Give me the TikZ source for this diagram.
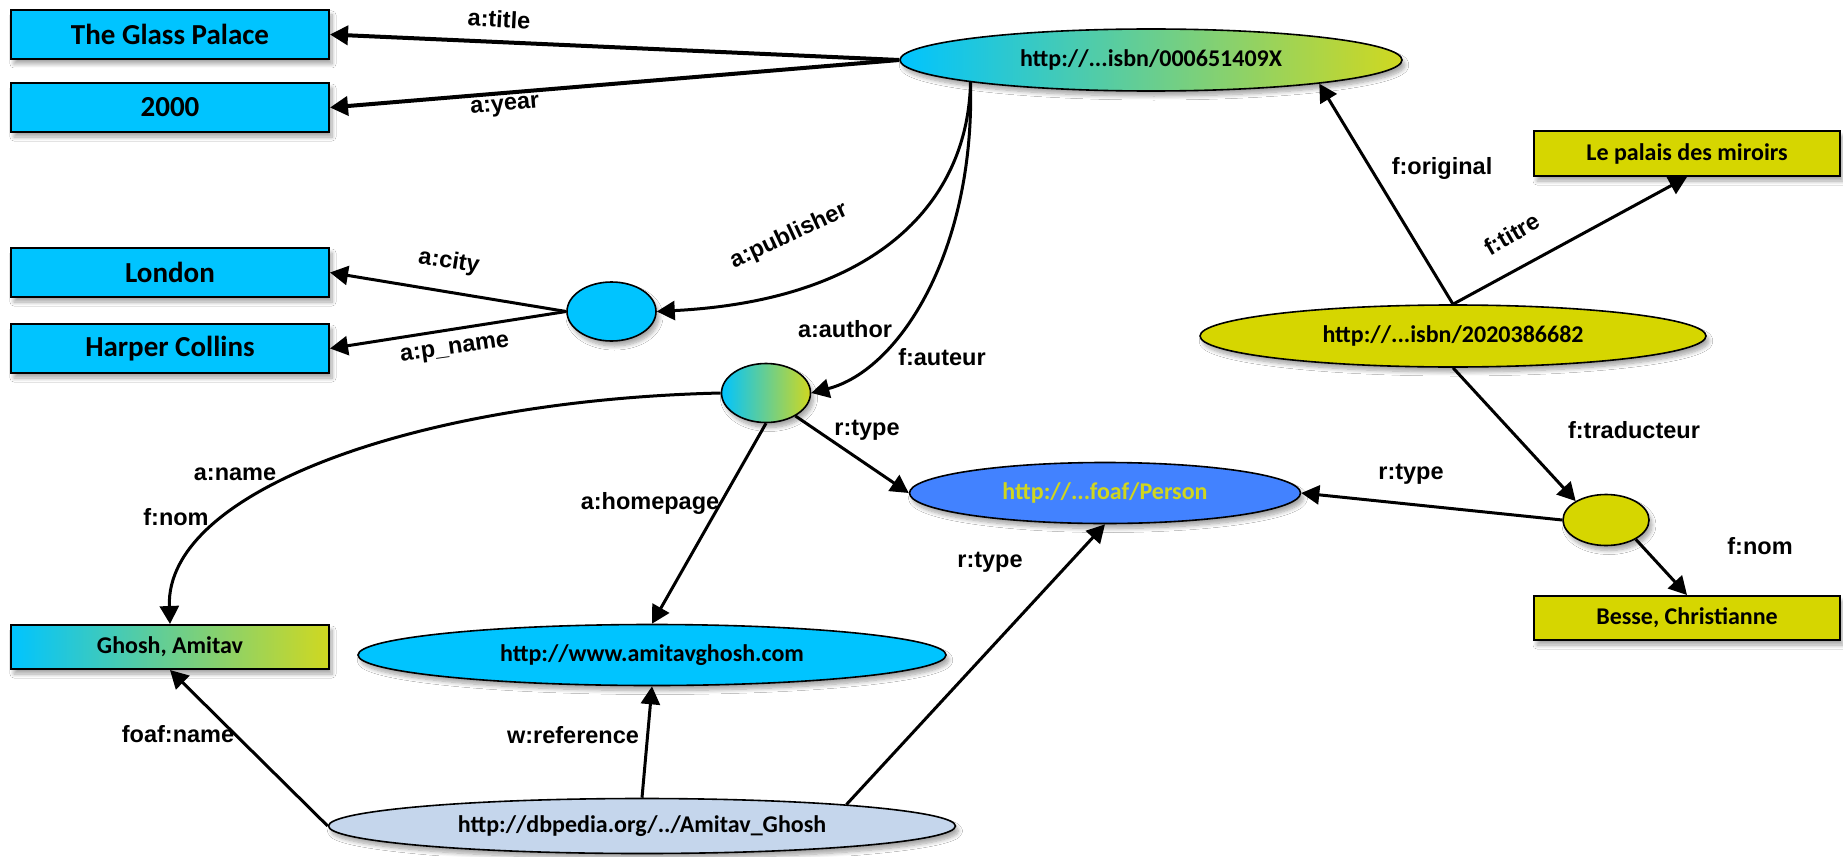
\documentclass[tikz,border=0pt]{standalone}
\usepackage{fontspec}
\setmainfont{Carlito}
\newfontfamily\lblfont{Liberation Sans}
\usetikzlibrary{arrows.meta,shapes.geometric,shadows.blur}
\definecolor{cyanb}{RGB}{0,196,255}
\definecolor{ylw}{RGB}{214,214,0}
\definecolor{gradR}{RGB}{208,216,32}
\definecolor{persB}{RGB}{66,130,255}
\definecolor{persT}{RGB}{208,214,30}
\definecolor{dbpB}{RGB}{197,214,236}
\begin{document}
\begin{tikzpicture}[x=1pt,y=-1pt,
  shd/.style={blur shadow={shadow xshift=3pt,shadow yshift=-5pt,shadow opacity=35,shadow blur steps=8,shadow blur radius=4pt}},
  box/.style={draw,line width=2pt,rectangle,inner sep=0pt,shd},
  ell/.style={draw,line width=1.6pt,ellipse,inner sep=0pt,shd},
  bigt/.style={font=\bfseries\fontsize{29}{33}\selectfont},
  smt/.style={font=\bfseries\fontsize{24}{28}\selectfont},
  lbl/.style={font=\lblfont\bfseries\fontsize{23.5}{27}\selectfont,inner sep=0pt},
  con/.style={line width=3pt,-{Triangle[length=18pt,width=19pt]}},
  grad/.style={left color=cyanb,right color=gradR},
]
\path[use as bounding box,fill=white] (0,0) rectangle (1843,856);

% boxes
\node[box,bigt,fill=cyanb,minimum width=318pt,minimum height=49pt] (glass) at (170,34.5) {The Glass Palace};
\node[box,bigt,fill=cyanb,minimum width=318pt,minimum height=49pt] (year) at (170,107.5) {2000};
\node[box,bigt,fill=cyanb,minimum width=318pt,minimum height=49pt] (london) at (170,272.5) {London};
\node[box,bigt,fill=cyanb,minimum width=318pt,minimum height=49pt] (harper) at (170,348.5) {Harper Collins};
\node[box,smt,grad,minimum width=318pt,minimum height=44pt] (ghosh) at (170,647) {Ghosh, Amitav};
\node[box,smt,fill=ylw,minimum width=306pt,minimum height=45pt] (palais) at (1687,153.5) {Le palais des miroirs};
\node[box,smt,fill=ylw,minimum width=306pt,minimum height=44pt] (besse) at (1687,618) {Besse, Christianne};

% ellipses
\node[ell,smt,grad,minimum width=502pt,minimum height=62pt] (iso1) at (1151,60) {http://...isbn/000651409X};
\node[ell,fill=cyanb,minimum width=89pt,minimum height=59pt] (pub) at (611.5,311.5) {};
\node[ell,grad,minimum width=89pt,minimum height=59pt] (auth) at (766,393) {};
\node[ell,smt,fill=ylw,minimum width=506pt,minimum height=62pt] (iso2) at (1453,336) {http://...isbn/2020386682};
\node[ell,smt,fill=persB,text=persT,minimum width=391pt,minimum height=61pt] (pers) at (1105,493) {http://...foaf/Person};
\node[ell,fill=ylw,minimum width=86pt,minimum height=51pt] (ycirc) at (1606,520) {};
\node[ell,smt,fill=cyanb,minimum width=588pt,minimum height=61pt] (amitav) at (652,655) {http://www.amitavghosh.com};
\node[ell,smt,fill=dbpB,minimum width=627pt,minimum height=55pt] (dbp) at (642,826) {http://dbpedia.org/../Amitav\_Ghosh};

% connectors
\draw[con,line width=4pt] (iso1.west) -- (glass.east);
\draw[con,line width=4pt] (iso1.west) -- (year.east);
\draw[con] (pub.west) -- (london.east);
\draw[con] (pub.west) -- (harper.east);
\draw[con] (iso1.-173) .. controls (968,200) and (880,300) .. (pub.east);
\draw[con] (iso1.-173) .. controls (975,250) and (900,370) .. (auth.east);
\draw[con] (auth.west) .. controls (420,400) and (165,490) .. (ghosh.north);
\draw[con] (auth.south) -- (amitav.north);
\draw[con] (auth.-38) -- (pers.west);
\draw[con] (dbp.west) -- (ghosh.south);
\draw[con] (dbp.north) -- (amitav.south);
\draw[con] (dbp.6) -- (pers.south);
\draw[con] (ycirc.west) -- (pers.east);
\draw[con] (iso2.north) -- (iso1.-8);
\draw[con] (iso2.north) -- (palais.south);
\draw[con] (iso2.south) -- (ycirc.148);
\draw[con] (ycirc.-33) -- (besse.north);

% labels
\node[lbl] (ltitle) at (499,19) {\rotatebox{-3}{a:title}};
\node[lbl] (lyear) at (505,107) {\rotatebox{5}{a:year}};
\node[lbl] (lpub) at (789,236) {\rotatebox{25}{a:publisher}};
\node[lbl] (lcity) at (449,262) {\rotatebox{-9}{a:city}};
\node[lbl] (lpname) at (455,350) {\rotatebox{8}{a:p\_name}};
\node[lbl] (lauthor) at (845,329) {a:author};
\node[lbl] (lauteur) at (942,357) {f:auteur};
\node[lbl] (lname) at (235,474) {a:name};
\node[lbl] (lnom) at (176,517) {f:nom};
\node[lbl] (lhome) at (650,503) {a:homepage};
\node[lbl] (ltype1) at (867,430) {r:type};
\node[lbl] (lfoaf) at (178,734) {foaf:name};
\node[lbl] (lref) at (573,735) {w:reference};
\node[lbl] (ltype2) at (990,562) {r:type};
\node[lbl] (ltype3) at (1411,474) {r:type};
\node[lbl] (lorig) at (1442,168) {f:original};
\node[lbl] (ltitre) at (1512,234) {\rotatebox{30}{f:titre}};
\node[lbl] (ltrad) at (1634,430) {f:traducteur};
\node[lbl] (lnom2) at (1760,546) {f:nom};
\end{tikzpicture}
\end{document}
